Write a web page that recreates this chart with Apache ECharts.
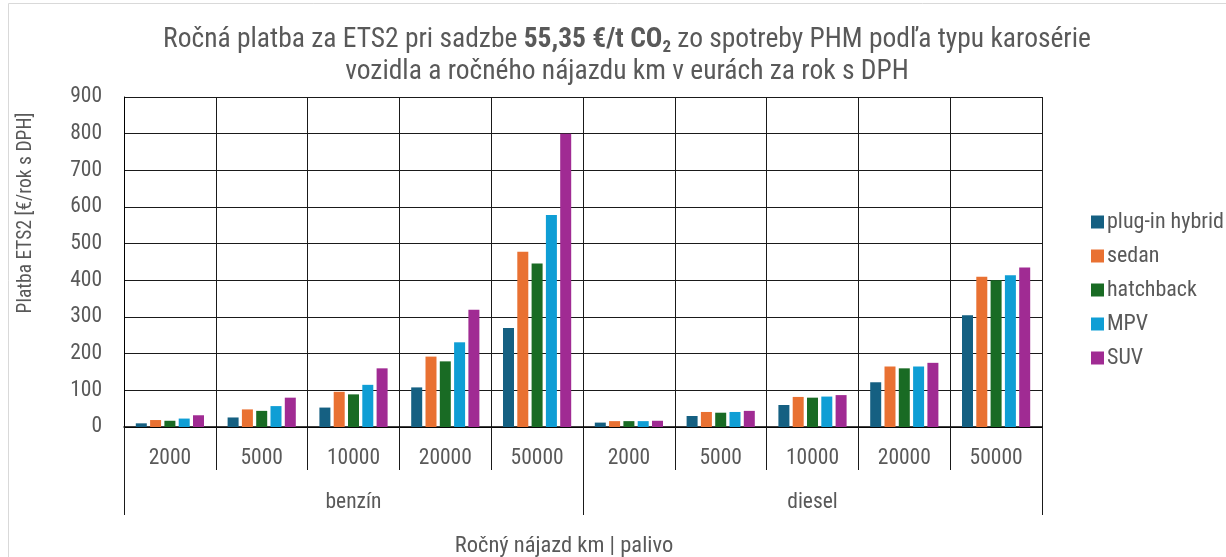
<!DOCTYPE html>
<html>
<head>
<meta charset="utf-8">
<script src="https://cdn.jsdelivr.net/npm/echarts@6/dist/echarts.min.js"></script>
<style>
html,body{margin:0;padding:0;background:#fff;}
#chart{width:1226px;height:557px;}
</style>
</head>
<body>
<div id="chart"></div>
<script>
// ---- data ----
const kmLabels = ['2000', '5000', '10000', '20000', '50000', '2000', '5000', '10000', '20000', '50000'];
const fuelLabels = ['benzín', 'diesel'];
const seriesNames = ['plug-in hybrid', 'sedan', 'hatchback', 'MPV', 'SUV'];
const plugInHybrid = [10, 26, 53, 108, 270, 12, 30, 60, 122, 305];
const sedan = [19, 48, 96, 192, 478, 16, 41, 82, 165, 410];
const hatchback = [17, 44, 89, 179, 446, 16, 39, 80, 160, 400];
const mpv = [23, 57, 115, 231, 578, 16, 41, 83, 165, 414];
const suv = [32, 80, 160, 320, 800, 17, 44, 87, 175, 435];
const colors = ['#156082', '#E97132', '#196B24', '#0F9ED5', '#A02B93'];

const FONT = "'Roboto Condensed', 'Liberation Sans', sans-serif";
const TXT = '#595959';
const LINE = '#1a1a1a';
const FS = 21.5;

const chart = echarts.init(document.getElementById('chart'), null, {renderer: 'canvas'});
const values = [plugInHybrid, sedan, hatchback, mpv, suv];

const option = {
  animation: false,
  color: colors,
  textStyle: {fontFamily: FONT},
  title: {
    left: 622,
    top: 19,
    textAlign: 'center',
    padding: [5, 5, 5, 5],
    text: '{n|Ročná platba za ETS2 pri sadzbe }{b|55,35 €/t CO}{s|2}{n| zo spotreby PHM podľa typu karosérie}\n{n|vozidla a ročného nájazdu km v eurách za rok s DPH}',
    textStyle: {
      fontFamily: FONT,
      color: TXT,
      fontSize: 27.5,
      fontWeight: 'normal',
      lineHeight: 32,
      rich: {
        n: {fontFamily: FONT, color: TXT, fontSize: 27.5, lineHeight: 32},
        b: {fontFamily: FONT, color: TXT, fontSize: 27.5, fontWeight: 'bold', lineHeight: 32},
        s: {fontFamily: FONT, color: TXT, fontSize: 17, fontWeight: 'bold', lineHeight: 21, verticalAlign: 'bottom'}
      }
    }
  },
  legend: {
    orient: 'vertical',
    left: 1086,
    top: 206,
    itemWidth: 13,
    itemHeight: 13,
    itemGap: 12,
    icon: 'rect',
    data: seriesNames,
    textStyle: {fontFamily: FONT, color: TXT, fontSize: 22, padding: [0, 0, 0, -2]}
  },
  grid: {left: 124, right: 184, top: 97, bottom: 130, containLabel: false, outerBoundsMode: 'none'},
  xAxis: [
    {
      type: 'category',
      data: kmLabels,
      position: 'bottom',
      axisLine: {show: true, lineStyle: {color: '#000', width: 1.5}},
      axisTick: {show: true, interval: 0, length: 43, lineStyle: {color: LINE, width: 1}},
      axisLabel: {interval: 0, margin: 21, fontFamily: FONT, fontSize: FS, color: TXT},
      splitLine: {show: true, interval: 0, lineStyle: {color: LINE, width: 1}}
    },
    {
      type: 'category',
      data: fuelLabels,
      position: 'bottom',
      offset: 0,
      axisLine: {show: false},
      axisTick: {show: true, interval: 0, length: 88, lineStyle: {color: LINE, width: 1}},
      axisLabel: {interval: 0, margin: 65, fontFamily: FONT, fontSize: FS, color: TXT},
      splitLine: {show: false},
      name: 'Ročný nájazd km | palivo',
      nameLocation: 'middle',
      nameGap: 108,
      nameTextStyle: {fontFamily: FONT, fontSize: 22.5, color: TXT, padding: [0, 38, 0, 0]}
    }
  ],
  yAxis: {
    type: 'value',
    min: 0,
    max: 900,
    interval: 100,
    axisLine: {show: true, lineStyle: {color: '#000', width: 1}},
    axisTick: {show: false},
    axisLabel: {margin: 22, fontFamily: FONT, fontSize: FS, color: TXT},
    splitLine: {show: true, lineStyle: {color: LINE, width: 1}},
    name: 'Platba ETS2 [€/rok s DPH]',
    nameLocation: 'middle',
    nameGap: 88,
    nameRotate: 90,
    nameTextStyle: {fontFamily: FONT, fontSize: 19.5, color: TXT, padding: [0, 0, 0, 98]}
  },
  series: seriesNames.map((name, i) => ({
    name: name,
    type: 'bar',
    xAxisIndex: 0,
    data: values[i],
    barWidth: 11,
    barGap: '30%',
    itemStyle: {color: colors[i]}
  })),
  graphic: [
    {
      type: 'rect',
      silent: true,
      shape: {x: 8.5, y: 3.5, width: 1300, height: 700},
      style: {fill: 'none', stroke: '#d9d9d9', lineWidth: 1},
      z: -10
    }
  ]
};
chart.setOption(option);
</script>
</body>
</html>
